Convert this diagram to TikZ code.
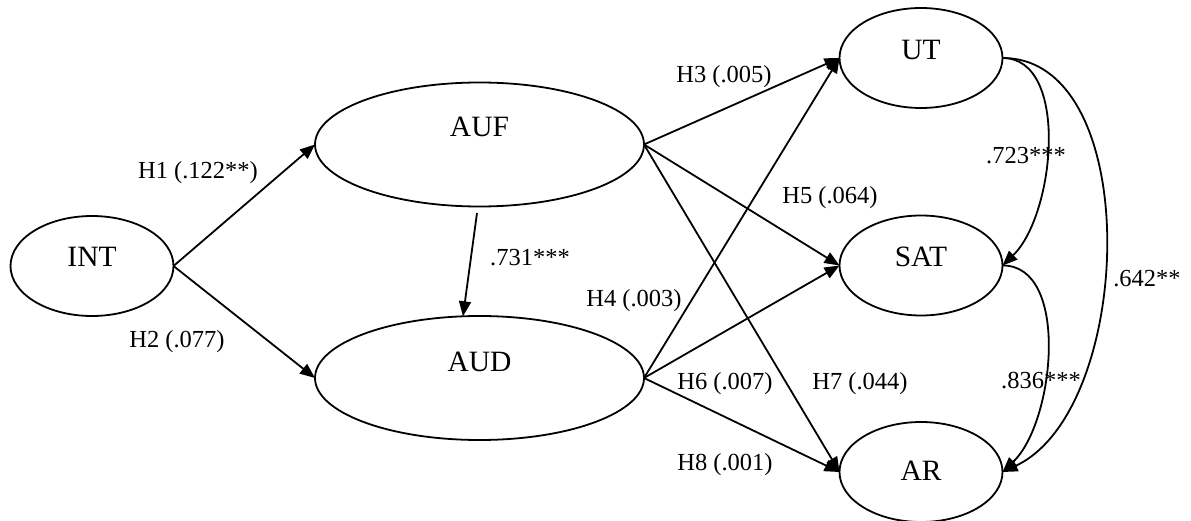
\documentclass[tikz,border=0pt]{standalone}
\usepackage{fontspec}
\setmainfont{Liberation Serif}
\usetikzlibrary{shapes.geometric,arrows.meta}
\begin{document}
\begin{tikzpicture}[x=1pt,y=-1pt,
  latent/.style={draw,ellipse,line width=1.8pt,inner sep=0pt,outer sep=0pt},
  small/.style={latent,minimum width=163pt,minimum height=100pt},
  big/.style={latent,minimum width=329pt,minimum height=124pt},
  lbl/.style={font=\fontsize{29.5}{30}\selectfont,anchor=base,inner sep=0pt},
  elbl/.style={font=\fontsize{24.5}{25}\selectfont,anchor=base,inner sep=0pt},
  arr/.style={line width=1.8pt,-{Triangle[length=15pt,width=12pt]}},
]
\useasboundingbox (0,0) rectangle (1191,521);

% latent constructs
\node[small] (INT) at (92,266) {};
\node[big]   (AUF) at (479.5,144.5) {};
\node[big]   (AUD) at (479.5,378) {};
\node[small] (UT)  at (921,58) {};
\node[small] (SAT) at (921,265.5) {};
\node[small] (AR)  at (921,472) {};

\node[lbl] (tINT) at (92,267) {INT};
\node[lbl] (tAUF) at (479.5,137) {AUF};
\node[lbl] (tAUD) at (479.5,371) {AUD};
\node[lbl] (tUT)  at (921,60) {UT};
\node[lbl] (tSAT) at (921,267) {SAT};
\node[lbl] (tAR)  at (921,480) {AR};

% structural paths
\draw[arr] (INT.east) -- (AUF.west);
\draw[arr] (INT.east) -- (AUD.west);
\draw[arr] ([xshift=-2.5pt,yshift=-6.5pt]AUF.south) -- (AUD.105);
\draw[arr] (AUF.east) -- (UT.west);
\draw[arr] (AUF.east) -- (SAT.west);
\draw[arr] (AUF.east) -- (AR.west);
\draw[arr] (AUD.east) -- (UT.west);
\draw[arr] (AUD.east) -- (SAT.west);
\draw[arr] (AUD.east) -- (AR.west);

% correlations among outcomes
\draw[arr] (UT.east) .. controls (1070,58) and (1055,215) .. (SAT.east);
\draw[arr] (UT.east) .. controls (1145,58) and (1135,410) .. (AR.east);
\draw[arr] (SAT.east) .. controls (1070,265) and (1055,422) .. (AR.east);

% path coefficients
\node[elbl] (h1) at (198,179) {H1 (.122**)};
\node[elbl] (h2) at (177,347) {H2 (.077)};
\node[elbl] (b0) at (530,266) {.731***};
\node[elbl] (h3) at (724,82.7) {H3 (.005)};
\node[elbl] (h4) at (634,306.7) {H4 (.003)};
\node[elbl] (h5) at (830,204) {H5 (.064)};
\node[elbl] (h6) at (725,389) {H6 (.007)};
\node[elbl] (h7) at (860,389) {H7 (.044)};
\node[elbl] (h8) at (725,470.7) {H8 (.001)};
\node[elbl] (c1) at (1026,164) {.723***};
\node[elbl] (c2) at (1147,286.7) {.642**};
\node[elbl] (c3) at (1041,388.7) {.836***};
\end{tikzpicture}
\end{document}
